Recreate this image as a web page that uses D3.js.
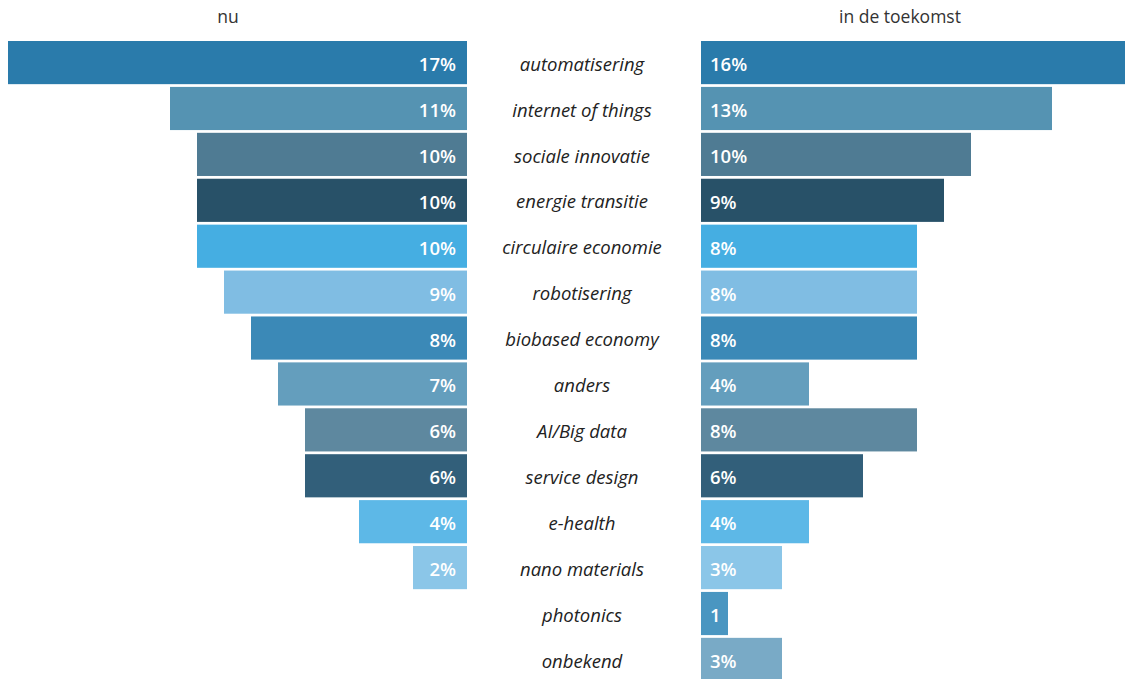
<!DOCTYPE html>
<html>
<head>
<meta charset="utf-8">
<script src="https://cdn.jsdelivr.net/npm/d3@7"></script>
<style>
  html, body { margin: 0; padding: 0; background: #fff; }
  svg { display: block; }
  text { font-family: "Open Sans", "Noto Sans", sans-serif; }
</style>
</head>
<body>
<svg id="chart" width="1125" height="679"></svg>
<script>
// Topics and their shares (percent) now and in the future
const categories = [
  "automatisering", "internet of things", "sociale innovatie", "energie transitie",
  "circulaire economie", "robotisering", "biobased economy", "anders",
  "AI/Big data", "service design", "e-health", "nano materials", "photonics", "onbekend"
];
const nuValues       = [17, 11, 10, 10, 10, 9, 8, 7, 6, 6, 4, 2, 0, 0];
const toekomstValues = [16, 13, 10, 9, 8, 8, 8, 4, 8, 6, 4, 3, 1, 3];
const nuLabels       = ["17%", "11%", "10%", "10%", "10%", "9%", "8%", "7%", "6%", "6%", "4%", "2%", "", ""];
const toekomstLabels = ["16%", "13%", "10%", "9%", "8%", "8%", "8%", "4%", "8%", "6%", "4%", "3%", "1", "3%"];
const colors = [
  "#2a7bab", "#5593b2", "#4f7b93", "#285168", "#45aee2", "#80bde3", "#3b89b7",
  "#649ebd", "#5e889f", "#325f7a", "#5db8e7", "#8bc6e8", "#4a96c1", "#79aac6"
];
const headers = ["nu", "in de toekomst"];

const svg = d3.select("#chart");

const y = d3.scaleBand()
  .domain(categories)
  .range([41, 681])
  .paddingInner(0.06);

// bar length in pixels per percent
const len = d3.scaleLinear().domain([0, 1]).range([0, 27]);

const leftEdge = 467;   // right edge of the "nu" bars
const rightEdge = 701;  // left edge of the "in de toekomst" bars
const centerX = 582;

const rows = categories.map((c, i) => ({
  cat: c, nu: nuValues[i], tk: toekomstValues[i],
  nuLabel: nuLabels[i], tkLabel: toekomstLabels[i], color: colors[i]
}));

// left bars
svg.append("g").selectAll("rect")
  .data(rows.filter(d => d.nu > 0))
  .join("rect")
  .attr("x", d => leftEdge - len(d.nu))
  .attr("y", d => y(d.cat))
  .attr("width", d => len(d.nu))
  .attr("height", y.bandwidth())
  .attr("fill", d => d.color);

// right bars
svg.append("g").selectAll("rect")
  .data(rows.filter(d => d.tk > 0))
  .join("rect")
  .attr("x", rightEdge)
  .attr("y", d => y(d.cat))
  .attr("width", d => len(d.tk))
  .attr("height", y.bandwidth())
  .attr("fill", d => d.color);

// value labels
svg.append("g").selectAll("text")
  .data(rows.filter(d => d.nu > 0))
  .join("text")
  .attr("x", leftEdge - 11)
  .attr("y", d => y(d.cat) + y.bandwidth() / 2)
  .attr("dy", "0.46em")
  .attr("text-anchor", "end")
  .attr("fill", "#fff")
  .attr("font-weight", 600)
  .attr("font-size", 18.5)
  .text(d => d.nuLabel);

svg.append("g").selectAll("text")
  .data(rows.filter(d => d.tk > 0))
  .join("text")
  .attr("x", rightEdge + 9)
  .attr("y", d => y(d.cat) + y.bandwidth() / 2)
  .attr("dy", "0.46em")
  .attr("text-anchor", "start")
  .attr("fill", "#fff")
  .attr("font-weight", 600)
  .attr("font-size", 18.5)
  .text(d => d.tkLabel);

// category labels in the middle
svg.append("g").selectAll("text")
  .data(rows)
  .join("text")
  .attr("x", centerX)
  .attr("y", d => y(d.cat) + y.bandwidth() / 2)
  .attr("dy", "0.44em")
  .attr("text-anchor", "middle")
  .attr("fill", "#222")
  .attr("font-style", "italic")
  .attr("font-size", 18.5)
  .text(d => d.cat);

// column headers
svg.append("text")
  .attr("x", 228).attr("y", 23)
  .attr("text-anchor", "middle")
  .attr("fill", "#333")
  .attr("font-size", 17.5)
  .text(headers[0]);

svg.append("text")
  .attr("x", 900).attr("y", 23)
  .attr("text-anchor", "middle")
  .attr("fill", "#333")
  .attr("font-size", 17.5)
  .text(headers[1]);
</script>
</body>
</html>
